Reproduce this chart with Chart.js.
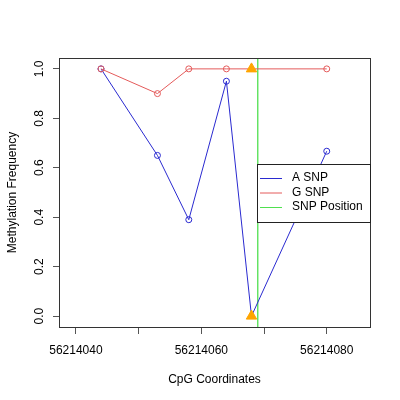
<!DOCTYPE html>
<html>
<head>
<meta charset="utf-8">
<script src="https://cdn.jsdelivr.net/npm/chart.js@4"></script>
<style>
  html, body { margin: 0; padding: 0; background: #fff; }
  canvas { display: block; }
</style>
</head>
<body>
<canvas id="chart" width="400" height="400"></canvas>
<script>
// data
const cpgPositions = [56214044, 56214053, 56214058, 56214064, 56214068, 56214080];
const aSnpValues = [1.0, 0.65, 0.39, 0.95, 0.0, 0.667];
const gSnpValues = [1.0, 0.9, 1.0, 1.0, 1.0, 1.0];
const snpPosition = 56214069;
const snpIndex = 4; // point at the SNP gets a triangle
const xTicks = [56214040, 56214050, 56214060, 56214070, 56214080];
const xTickLabels = ['56214040', '', '56214060', '', '56214080'];
const yTicks = [0, 0.2, 0.4, 0.6, 0.8, 1.0];
const yTickLabels = ['0.0', '0.2', '0.4', '0.6', '0.8', '1.0'];
const legendLabels = ['A SNP', 'G SNP', 'SNP Position'];

const FONT = 'Liberation Sans, Arial, sans-serif';
const blue = '#2a2ad0';
const red = '#e45a5a';
const green = '#4fe04f';
const orange = '#ffa500';

function pts(values) {
    return cpgPositions.map((x, i) => ({x: x, y: values[i]}));
}

function perPoint(normal, special) {
    return cpgPositions.map((x, i) => i === snpIndex ? special : normal);
}

// box, rotated y labels and legend
const rStyle = {
    id: 'rStyle',
    afterDraw(chart) {
        const ctx = chart.ctx;
        const a = chart.chartArea;
        const ys = chart.scales.y;
        ctx.save();
        ctx.strokeStyle = '#333';
        ctx.lineWidth = 1;
        ctx.strokeRect(a.left + 0.5, a.top + 0.5, a.right - a.left, a.bottom - a.top);

        ctx.fillStyle = '#000';
        ctx.font = '12px ' + FONT;
        ctx.textAlign = 'center';
        ctx.textBaseline = 'middle';
        yTicks.forEach((v, i) => {
            const py = ys.getPixelForValue(v);
            ctx.save();
            ctx.translate(40, py);
            ctx.rotate(-Math.PI / 2);
            ctx.fillText(yTickLabels[i], 0, 0);
            ctx.restore();
        });

        // legend
        const lx = 257, ly = 164, lw = a.right - 257, lh = 58;
        ctx.fillStyle = '#fff';
        ctx.fillRect(lx, ly, lw, lh);
        ctx.strokeStyle = '#222';
        ctx.strokeRect(lx + 0.5, ly + 0.5, lw, lh);
        const cols = [blue, red, green];
        ctx.textAlign = 'left';
        legendLabels.forEach((t, i) => {
            const y = ly + 14 + i * 14.5;
            ctx.strokeStyle = cols[i];
            ctx.beginPath();
            ctx.moveTo(260, y + 0.5);
            ctx.lineTo(282, y + 0.5);
            ctx.stroke();
            ctx.fillStyle = '#000';
            ctx.fillText(t, 292, y);
        });
        ctx.restore();
    }
};

new Chart(document.getElementById('chart'), {
    type: 'line',
    data: {
        datasets: [
            {
                label: legendLabels[2],
                data: [{x: snpPosition, y: -0.05}, {x: snpPosition, y: 1.05}],
                borderColor: green,
                borderWidth: 1.3,
                pointRadius: 0,
                order: 3
            },
            {
                label: legendLabels[0],
                data: pts(aSnpValues),
                borderColor: blue,
                borderWidth: 1,
                pointStyle: perPoint('circle', 'triangle'),
                pointRadius: perPoint(3, 6),
                pointBackgroundColor: perPoint('rgba(0,0,0,0)', orange),
                pointBorderColor: perPoint(blue, orange),
                pointBorderWidth: 1,
                order: 2
            },
            {
                label: legendLabels[1],
                data: pts(gSnpValues),
                borderColor: red,
                borderWidth: 1,
                pointStyle: perPoint('circle', 'triangle'),
                pointRadius: perPoint(3, 6),
                pointBackgroundColor: perPoint('rgba(0,0,0,0)', orange),
                pointBorderColor: perPoint(red, orange),
                pointBorderWidth: 1,
                order: 1
            }
        ]
    },
    options: {
        responsive: false,
        animation: false,
        devicePixelRatio: 1,
        clip: true,
        layout: {padding: {top: 58, right: 30, left: 0, bottom: 0}},
        plugins: {
            legend: {display: false},
            tooltip: {enabled: false}
        },
        scales: {
            x: {
                type: 'linear',
                min: 56214037.3,
                max: 56214086.9,
                afterBuildTicks: s => { s.ticks = xTicks.map(v => ({value: v})); },
                afterFit: s => { s.height = 73; },
                ticks: {
                    autoSkip: false,
                    maxRotation: 0,
                    padding: 9,
                    color: '#000',
                    font: {family: FONT, size: 12},
                    callback: (v, i) => xTickLabels[i]
                },
                grid: {drawOnChartArea: false, tickLength: 7, color: '#555'},
                border: {display: false},
                title: {
                    display: true,
                    text: 'CpG Coordinates',
                    color: '#000',
                    font: {family: FONT, size: 12},
                    padding: {top: 4, bottom: 13}
                }
            },
            y: {
                min: -0.044,
                max: 1.044,
                afterBuildTicks: s => { s.ticks = yTicks.map(v => ({value: v})); },
                afterFit: s => { s.width = 59; },
                ticks: {display: false},
                grid: {drawOnChartArea: false, tickLength: 6, color: '#555'},
                border: {display: false},
                title: {
                    display: true,
                    text: 'Methylation Frequency',
                    color: '#000',
                    font: {family: FONT, size: 12},
                    padding: {bottom: 0, top: 5}
                }
            }
        }
    },
    plugins: [rStyle]
});
</script>
</body>
</html>
